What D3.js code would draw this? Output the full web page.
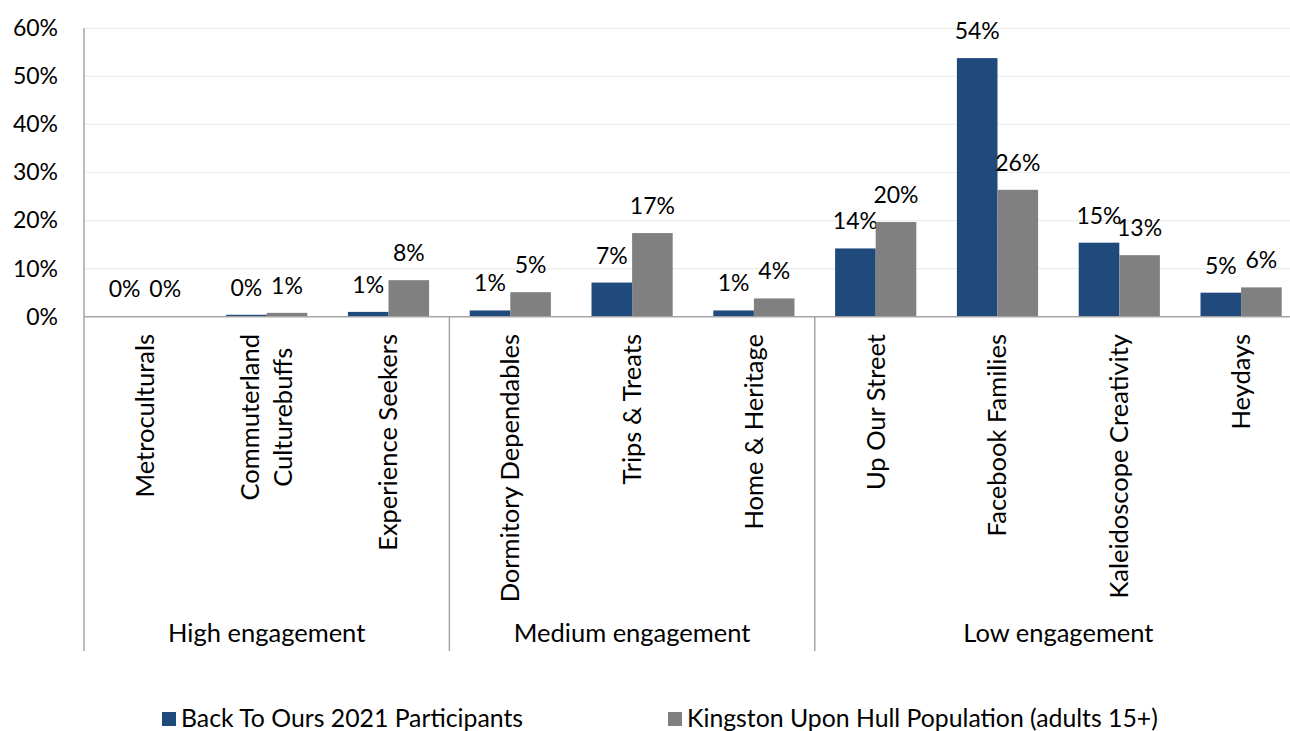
<!DOCTYPE html>
<html>
<head>
<meta charset="utf-8">
<script src="https://cdn.jsdelivr.net/npm/d3@7"></script>
<style>
    html, body { margin: 0; padding: 0; background: #ffffff; }
    svg { display: block; font-family: Lato, "Open Sans", sans-serif; }
</style>
</head>
<body>
<div id="chart"></div>
<script>
// categories (line break where the original label wraps)
const categories = [
    "Metroculturals", "Commuterland\nCulturebuffs", "Experience Seekers",
    "Dormitory Dependables", "Trips & Treats", "Home & Heritage",
    "Up Our Street", "Facebook Families", "Kaleidoscope Creativity", "Heydays"
];
const groups = ["High engagement", "Medium engagement", "Low engagement"];
const groupSizes = [3, 3, 4];

const seriesNames = ["Back To Ours 2021 Participants", "Kingston Upon Hull Population (adults 15+)"];
const participants = [0.001, 0.004, 0.010, 0.013, 0.071, 0.013, 0.142, 0.538, 0.154, 0.050];
const population = [0.001, 0.008, 0.076, 0.051, 0.174, 0.038, 0.197, 0.264, 0.128, 0.061];
const yTicks = [0, 0.1, 0.2, 0.3, 0.4, 0.5, 0.6];

const colors = ["#204a7c", "#808080"];
const width = 1290;
const height = 731;
const numberSize = 23;   // tick and value labels
const labelSize = 25.5;  // category and group labels
const legendSize = 24.8;

// plot area
const plotLeft = 84;
const plotRight = 1302;
const plotTop = 28.3;
const plotBottom = 316.7;
const axisBottom = 651;

const svg = d3.select("#chart")
    .append("svg")
    .attr("width", width)
    .attr("height", height);

const x = d3.scaleBand()
    .domain(categories)
    .range([plotLeft, plotRight])
    .padding(0);
const bw = x.bandwidth();

const xInner = d3.scaleBand()
    .domain(seriesNames)
    .range([bw / 6, bw * 5 / 6])
    .padding(0);

const y = d3.scaleLinear()
    .domain([0, 0.6])
    .range([plotBottom, plotTop]);

const pct = d3.format(".0%");

// gridlines
svg.append("g")
    .selectAll("line")
    .data(yTicks.slice(1))
    .join("line")
    .attr("x1", plotLeft)
    .attr("x2", width)
    .attr("y1", d => y(d))
    .attr("y2", d => y(d))
    .attr("stroke", "#ececec")
    .attr("stroke-width", 1.2);

// y axis labels
const yAxis = d3.axisLeft(y)
    .tickValues(yTicks)
    .tickFormat(pct)
    .tickSize(0)
    .tickPadding(0);
const yAxisG = svg.append("g")
    .attr("transform", `translate(${plotLeft - 26},0)`)
    .call(yAxis);
yAxisG.select(".domain").remove();
yAxisG.selectAll("text")
    .attr("font-family", "Lato, sans-serif")
    .attr("font-size", numberSize)
    .attr("fill", "#000");

// bars
const series = [participants, population];
series.forEach((values, si) => {
    const name = seriesNames[si];
    svg.append("g")
        .selectAll("rect")
        .data(categories.map((c, i) => ({ c, v: values[i] })))
        .join("rect")
        .attr("x", d => x(d.c) + xInner(name))
        .attr("y", d => y(d.v))
        .attr("width", xInner.bandwidth())
        .attr("height", d => y(0) - y(d.v))
        .attr("fill", colors[si]);

    svg.append("g")
        .selectAll("text")
        .data(categories.map((c, i) => ({ c, v: values[i] })))
        .join("text")
        .attr("x", d => x(d.c) + xInner(name) + xInner.bandwidth() / 2)
        .attr("y", d => y(d.v) - 19)
        .attr("text-anchor", "middle")
        .attr("font-size", numberSize)
        .attr("fill", "#000")
        .text(d => pct(d.v));
});

// axis lines
svg.append("line")
    .attr("x1", plotLeft).attr("x2", plotRight)
    .attr("y1", plotBottom).attr("y2", plotBottom)
    .attr("stroke", "#a6a6a6")
    .attr("stroke-width", 1.5);

svg.append("line")
    .attr("x1", plotLeft).attr("x2", plotLeft)
    .attr("y1", plotTop).attr("y2", axisBottom)
    .attr("stroke", "#a6a6a6")
    .attr("stroke-width", 1.5);

// group separators
let start = 0;
const groupBounds = groupSizes.map(n => {
    const b = [x(categories[start]), x(categories[start + n - 1]) + bw];
    start += n;
    return b;
});
svg.append("g")
    .selectAll("line")
    .data(groupBounds)
    .join("line")
    .attr("x1", d => d[1]).attr("x2", d => d[1])
    .attr("y1", plotBottom).attr("y2", axisBottom)
    .attr("stroke", "#a6a6a6")
    .attr("stroke-width", 1.5);

// category labels, rotated, multi-line centred on the longest line
const catG = svg.append("g");
categories.forEach(c => {
    const lines = c.split("\n");
    const g = catG.append("g")
        .attr("transform", `translate(${x(c) + bw / 2},334) rotate(-90)`);
    const texts = lines.map((line, li) => g.append("text")
        .attr("font-size", labelSize)
        .attr("fill", "#000")
        .attr("y", (li - (lines.length - 1) / 2) * 33)
        .attr("dy", "0.35em")
        .text(line));
    const maxLen = d3.max(texts, t => t.node().getComputedTextLength());
    texts.forEach(t => t.attr("x", -maxLen / 2).attr("text-anchor", "middle"));
});

// group labels
svg.append("g")
    .selectAll("text")
    .data(groups)
    .join("text")
    .attr("x", (d, i) => (groupBounds[i][0] + groupBounds[i][1]) / 2)
    .attr("y", 642)
    .attr("text-anchor", "middle")
    .attr("font-size", labelSize)
    .attr("fill", "#000")
    .text(d => d);

// legend
const legendX = [162, 668];
const legend = svg.append("g")
    .selectAll("g")
    .data(seriesNames)
    .join("g")
    .attr("transform", (d, i) => `translate(${legendX[i]},712)`);
legend.append("rect")
    .attr("width", 14)
    .attr("height", 14)
    .attr("fill", (d, i) => colors[i]);
legend.append("text")
    .attr("x", 19)
    .attr("y", 15)
    .attr("font-size", legendSize)
    .attr("fill", "#000")
    .text(d => d);
</script>
</body>
</html>
